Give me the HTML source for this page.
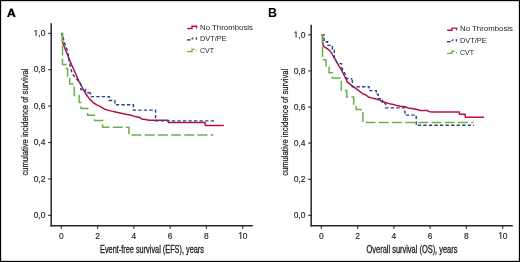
<!DOCTYPE html>
<html><head><meta charset="utf-8"><style>
html,body{margin:0;padding:0;background:#fff;}
body{width:520px;height:262px;overflow:hidden;}
svg{display:block;will-change:transform;}
</style></head><body>
<svg width="520" height="262" viewBox="0 0 520 262">
<rect x="0" y="0" width="520" height="262" fill="#fff"/>
<path fill-rule="evenodd" fill="#000" d="M7.0,17.1 L10.25,8.4 L12.45,8.4 L15.7,17.1 L13.55,17.1 L12.9,15.3 L9.8,15.3 L9.15,17.1 Z M10.4,13.7 L12.3,13.7 L11.35,10.9 Z"/>
<line x1="51.2" y1="23.30" x2="51.2" y2="226.4" stroke="#262626" stroke-width="1.5"/>
<line x1="50.45" y1="225.7" x2="252.8" y2="225.7" stroke="#262626" stroke-width="1.4"/>
<line x1="48.2" y1="215.33" x2="51.2" y2="215.33" stroke="#262626" stroke-width="1.1"/>
<text transform="translate(45.4,218.08) scale(0.94,1)" text-anchor="end" font-family="Liberation Sans, sans-serif" font-size="9.0" fill="#1e1e1e" stroke="#1e1e1e" stroke-width="0.15">0,0</text>
<line x1="48.2" y1="178.93" x2="51.2" y2="178.93" stroke="#262626" stroke-width="1.1"/>
<text transform="translate(45.4,181.68) scale(0.94,1)" text-anchor="end" font-family="Liberation Sans, sans-serif" font-size="9.0" fill="#1e1e1e" stroke="#1e1e1e" stroke-width="0.15">0,2</text>
<line x1="48.2" y1="142.53" x2="51.2" y2="142.53" stroke="#262626" stroke-width="1.1"/>
<text transform="translate(45.4,145.28) scale(0.94,1)" text-anchor="end" font-family="Liberation Sans, sans-serif" font-size="9.0" fill="#1e1e1e" stroke="#1e1e1e" stroke-width="0.15">0,4</text>
<line x1="48.2" y1="106.13" x2="51.2" y2="106.13" stroke="#262626" stroke-width="1.1"/>
<text transform="translate(45.4,108.88) scale(0.94,1)" text-anchor="end" font-family="Liberation Sans, sans-serif" font-size="9.0" fill="#1e1e1e" stroke="#1e1e1e" stroke-width="0.15">0,6</text>
<line x1="48.2" y1="69.73" x2="51.2" y2="69.73" stroke="#262626" stroke-width="1.1"/>
<text transform="translate(45.4,72.48) scale(0.94,1)" text-anchor="end" font-family="Liberation Sans, sans-serif" font-size="9.0" fill="#1e1e1e" stroke="#1e1e1e" stroke-width="0.15">0,8</text>
<line x1="48.2" y1="33.33" x2="51.2" y2="33.33" stroke="#262626" stroke-width="1.1"/>
<text transform="translate(45.4,36.08) scale(0.94,1)" text-anchor="end" font-family="Liberation Sans, sans-serif" font-size="9.0" fill="#1e1e1e" stroke="#1e1e1e" stroke-width="0.15">,0</text>
<path d="M36.10,36.08 V30.18 L34.45,31.38" fill="none" stroke="#1e1e1e" stroke-width="0.95"/>
<line x1="61.40" y1="225.7" x2="61.40" y2="228.8" stroke="#262626" stroke-width="1.1"/>
<text transform="translate(61.40,239.0) scale(0.88,1)" text-anchor="middle" font-family="Liberation Sans, sans-serif" font-size="9.6" fill="#1e1e1e" stroke="#1e1e1e" stroke-width="0.15">0</text>
<line x1="97.64" y1="225.7" x2="97.64" y2="228.8" stroke="#262626" stroke-width="1.1"/>
<text transform="translate(97.64,239.0) scale(0.88,1)" text-anchor="middle" font-family="Liberation Sans, sans-serif" font-size="9.6" fill="#1e1e1e" stroke="#1e1e1e" stroke-width="0.15">2</text>
<line x1="133.88" y1="225.7" x2="133.88" y2="228.8" stroke="#262626" stroke-width="1.1"/>
<text transform="translate(133.88,239.0) scale(0.88,1)" text-anchor="middle" font-family="Liberation Sans, sans-serif" font-size="9.6" fill="#1e1e1e" stroke="#1e1e1e" stroke-width="0.15">4</text>
<line x1="170.12" y1="225.7" x2="170.12" y2="228.8" stroke="#262626" stroke-width="1.1"/>
<text transform="translate(170.12,239.0) scale(0.88,1)" text-anchor="middle" font-family="Liberation Sans, sans-serif" font-size="9.6" fill="#1e1e1e" stroke="#1e1e1e" stroke-width="0.15">6</text>
<line x1="206.36" y1="225.7" x2="206.36" y2="228.8" stroke="#262626" stroke-width="1.1"/>
<text transform="translate(206.36,239.0) scale(0.88,1)" text-anchor="middle" font-family="Liberation Sans, sans-serif" font-size="9.6" fill="#1e1e1e" stroke="#1e1e1e" stroke-width="0.15">8</text>
<line x1="242.60" y1="225.7" x2="242.60" y2="228.8" stroke="#262626" stroke-width="1.1"/>
<text transform="translate(245.10,239.0) scale(0.88,1)" text-anchor="middle" font-family="Liberation Sans, sans-serif" font-size="9.6" fill="#1e1e1e" stroke="#1e1e1e" stroke-width="0.15">0</text>
<path d="M240.80,239.00 V232.40 L239.10,233.70" fill="none" stroke="#1e1e1e" stroke-width="0.95"/>
<text x="100.05" y="252.9" textLength="103.9" lengthAdjust="spacingAndGlyphs" font-family="Liberation Sans, sans-serif" font-size="10.0" fill="#1e1e1e" stroke="#1e1e1e" stroke-width="0.3">Event-free survival (EFS), years</text>
<text transform="translate(28.0,175.60) rotate(-90)" x="0" y="0" textLength="107" lengthAdjust="spacingAndGlyphs" font-family="Liberation Sans, sans-serif" font-size="9.2" fill="#1e1e1e" stroke="#1e1e1e" stroke-width="0.25">cumulative incidence of survival</text>
<text x="200.0" y="29.55" textLength="53.0" lengthAdjust="spacingAndGlyphs" font-family="Liberation Sans, sans-serif" font-size="8.1" fill="#1e1e1e">No Thrombosis</text>
<text x="200.0" y="41.3" textLength="26.7" lengthAdjust="spacingAndGlyphs" font-family="Liberation Sans, sans-serif" font-size="8.1" fill="#1e1e1e">DVT/PE</text>
<text x="200.0" y="52.7" textLength="14.0" lengthAdjust="spacingAndGlyphs" font-family="Liberation Sans, sans-serif" font-size="8.1" fill="#1e1e1e">CVT</text>
<polyline points="187.20,28.50 192.00,28.50 192.00,26.30 196.60,26.30 196.60,28.50" fill="none" stroke="#b3123e" stroke-width="1.4"/>
<line x1="187.0" y1="39.9" x2="190.6" y2="39.9" stroke="#27438c" stroke-width="1.4"/>
<line x1="191.6" y1="39.3" x2="193.4" y2="37.699999999999996" stroke="#27438c" stroke-width="1.4"/>
<line x1="196.4" y1="37.3" x2="196.4" y2="39.699999999999996" stroke="#27438c" stroke-width="1.3"/>
<polyline points="187.00,51.60 192.00,51.60 192.00,49.40 194.60,49.40" fill="none" stroke="#6cb045" stroke-width="1.4"/>
<line x1="196.2" y1="50.9" x2="197.0" y2="50.9" stroke="#6cb045" stroke-width="1.4"/>
<polyline points="62.40,33.40 62.45,40.50 62.80,43.00 67.00,53.50 71.50,64.60 73.70,69.20 76.40,75.50 79.10,81.70 82.60,88.00 86.00,94.30 89.50,98.90 92.90,102.30 96.30,104.60 98.50,105.70 101.80,107.30 104.10,109.00 107.90,110.10 113.30,111.60 117.80,112.60 122.40,113.40 126.00,114.30 131.30,115.30 135.20,116.60 139.70,117.60 142.40,119.30 145.80,119.40 148.90,120.20 168.10,120.30 168.50,122.50 205.00,122.50 205.50,125.60 223.80,125.60" fill="none" stroke="#b3123e" stroke-width="1.5" stroke-linejoin="round"/>
<polyline points="61.40,33.30 62.20,35.00 63.20,38.00 64.20,42.00 65.60,46.00 67.20,50.00 68.20,55.00 69.00,60.00 70.00,65.00 71.20,70.00 72.50,74.00 75.50,78.00 79.50,82.00 80.70,84.00 80.80,88.50 80.80,89.50 85.50,89.50 85.50,92.70 90.50,92.70" fill="none" stroke="#27438c" stroke-width="1.4" stroke-dasharray="3.35 2.2" stroke-dashoffset="1.67"/>
<polyline points="90.50,92.70 90.50,96.60 109.20,96.60 109.20,100.50 114.90,100.50 114.90,104.70 133.40,104.70 133.40,110.10 155.60,110.10 155.60,120.90 214.00,120.90" fill="none" stroke="#27438c" stroke-width="1.4" stroke-dasharray="3.35 2.2" stroke-dashoffset="1.50"/>
<polyline points="61.40,33.30 62.50,33.30 62.50,64.60 66.00,64.60 66.00,68.60 67.60,68.60 67.60,77.00 69.70,77.00 69.70,84.00 74.30,84.00 74.30,95.50 79.20,95.50 79.20,102.60 80.90,102.60 80.90,108.40 87.60,108.40 87.60,115.30 94.50,115.30 94.50,120.60 102.60,120.60 102.60,127.30 128.90,127.30 128.90,135.00 213.50,135.00" fill="none" stroke="#6cb045" stroke-width="1.5" stroke-dasharray="9.9 3.3" stroke-dashoffset="-0.2"/>
<text x="268.0" y="17.2" font-family="Liberation Sans, sans-serif" font-weight="bold" font-size="12.4" fill="#000">B</text>
<line x1="311.2" y1="24.70" x2="311.2" y2="226.4" stroke="#262626" stroke-width="1.5"/>
<line x1="310.45" y1="225.7" x2="512.8" y2="225.7" stroke="#262626" stroke-width="1.4"/>
<line x1="308.2" y1="215.33" x2="311.2" y2="215.33" stroke="#262626" stroke-width="1.1"/>
<text transform="translate(305.4,218.08) scale(0.94,1)" text-anchor="end" font-family="Liberation Sans, sans-serif" font-size="9.0" fill="#1e1e1e" stroke="#1e1e1e" stroke-width="0.15">0,0</text>
<line x1="308.2" y1="179.22" x2="311.2" y2="179.22" stroke="#262626" stroke-width="1.1"/>
<text transform="translate(305.4,181.97) scale(0.94,1)" text-anchor="end" font-family="Liberation Sans, sans-serif" font-size="9.0" fill="#1e1e1e" stroke="#1e1e1e" stroke-width="0.15">0,2</text>
<line x1="308.2" y1="143.12" x2="311.2" y2="143.12" stroke="#262626" stroke-width="1.1"/>
<text transform="translate(305.4,145.87) scale(0.94,1)" text-anchor="end" font-family="Liberation Sans, sans-serif" font-size="9.0" fill="#1e1e1e" stroke="#1e1e1e" stroke-width="0.15">0,4</text>
<line x1="308.2" y1="107.01" x2="311.2" y2="107.01" stroke="#262626" stroke-width="1.1"/>
<text transform="translate(305.4,109.76) scale(0.94,1)" text-anchor="end" font-family="Liberation Sans, sans-serif" font-size="9.0" fill="#1e1e1e" stroke="#1e1e1e" stroke-width="0.15">0,6</text>
<line x1="308.2" y1="70.91" x2="311.2" y2="70.91" stroke="#262626" stroke-width="1.1"/>
<text transform="translate(305.4,73.66) scale(0.94,1)" text-anchor="end" font-family="Liberation Sans, sans-serif" font-size="9.0" fill="#1e1e1e" stroke="#1e1e1e" stroke-width="0.15">0,8</text>
<line x1="308.2" y1="34.80" x2="311.2" y2="34.80" stroke="#262626" stroke-width="1.1"/>
<text transform="translate(305.4,37.55) scale(0.94,1)" text-anchor="end" font-family="Liberation Sans, sans-serif" font-size="9.0" fill="#1e1e1e" stroke="#1e1e1e" stroke-width="0.15">,0</text>
<path d="M296.10,37.55 V31.65 L294.45,32.85" fill="none" stroke="#1e1e1e" stroke-width="0.95"/>
<line x1="321.40" y1="225.7" x2="321.40" y2="228.8" stroke="#262626" stroke-width="1.1"/>
<text transform="translate(321.40,239.0) scale(0.88,1)" text-anchor="middle" font-family="Liberation Sans, sans-serif" font-size="9.6" fill="#1e1e1e" stroke="#1e1e1e" stroke-width="0.15">0</text>
<line x1="357.64" y1="225.7" x2="357.64" y2="228.8" stroke="#262626" stroke-width="1.1"/>
<text transform="translate(357.64,239.0) scale(0.88,1)" text-anchor="middle" font-family="Liberation Sans, sans-serif" font-size="9.6" fill="#1e1e1e" stroke="#1e1e1e" stroke-width="0.15">2</text>
<line x1="393.88" y1="225.7" x2="393.88" y2="228.8" stroke="#262626" stroke-width="1.1"/>
<text transform="translate(393.88,239.0) scale(0.88,1)" text-anchor="middle" font-family="Liberation Sans, sans-serif" font-size="9.6" fill="#1e1e1e" stroke="#1e1e1e" stroke-width="0.15">4</text>
<line x1="430.12" y1="225.7" x2="430.12" y2="228.8" stroke="#262626" stroke-width="1.1"/>
<text transform="translate(430.12,239.0) scale(0.88,1)" text-anchor="middle" font-family="Liberation Sans, sans-serif" font-size="9.6" fill="#1e1e1e" stroke="#1e1e1e" stroke-width="0.15">6</text>
<line x1="466.36" y1="225.7" x2="466.36" y2="228.8" stroke="#262626" stroke-width="1.1"/>
<text transform="translate(466.36,239.0) scale(0.88,1)" text-anchor="middle" font-family="Liberation Sans, sans-serif" font-size="9.6" fill="#1e1e1e" stroke="#1e1e1e" stroke-width="0.15">8</text>
<line x1="502.60" y1="225.7" x2="502.60" y2="228.8" stroke="#262626" stroke-width="1.1"/>
<text transform="translate(505.10,239.0) scale(0.88,1)" text-anchor="middle" font-family="Liberation Sans, sans-serif" font-size="9.6" fill="#1e1e1e" stroke="#1e1e1e" stroke-width="0.15">0</text>
<path d="M500.80,239.00 V232.40 L499.10,233.70" fill="none" stroke="#1e1e1e" stroke-width="0.95"/>
<text x="366.60" y="252.9" textLength="90.8" lengthAdjust="spacingAndGlyphs" font-family="Liberation Sans, sans-serif" font-size="10.0" fill="#1e1e1e" stroke="#1e1e1e" stroke-width="0.3">Overall survival (OS), years</text>
<text transform="translate(288.0,175.75) rotate(-90)" x="0" y="0" textLength="107" lengthAdjust="spacingAndGlyphs" font-family="Liberation Sans, sans-serif" font-size="9.2" fill="#1e1e1e" stroke="#1e1e1e" stroke-width="0.25">cumulative incidence of survival</text>
<text x="460.0" y="31.35" textLength="53.0" lengthAdjust="spacingAndGlyphs" font-family="Liberation Sans, sans-serif" font-size="8.1" fill="#1e1e1e">No Thrombosis</text>
<text x="460.0" y="43.099999999999994" textLength="26.7" lengthAdjust="spacingAndGlyphs" font-family="Liberation Sans, sans-serif" font-size="8.1" fill="#1e1e1e">DVT/PE</text>
<text x="460.0" y="54.5" textLength="14.0" lengthAdjust="spacingAndGlyphs" font-family="Liberation Sans, sans-serif" font-size="8.1" fill="#1e1e1e">CVT</text>
<polyline points="447.20,30.30 452.00,30.30 452.00,28.10 456.60,28.10 456.60,30.30" fill="none" stroke="#b3123e" stroke-width="1.4"/>
<line x1="447.0" y1="41.699999999999996" x2="450.6" y2="41.699999999999996" stroke="#27438c" stroke-width="1.4"/>
<line x1="451.6" y1="41.099999999999994" x2="453.4" y2="39.49999999999999" stroke="#27438c" stroke-width="1.4"/>
<line x1="456.4" y1="39.099999999999994" x2="456.4" y2="41.49999999999999" stroke="#27438c" stroke-width="1.3"/>
<polyline points="447.00,53.40 452.00,53.40 452.00,51.20 454.60,51.20" fill="none" stroke="#6cb045" stroke-width="1.4"/>
<line x1="456.2" y1="52.699999999999996" x2="457.0" y2="52.699999999999996" stroke="#6cb045" stroke-width="1.4"/>
<polyline points="322.50,34.90 322.60,39.00 322.70,43.00 323.20,45.00 324.30,46.90 327.20,48.60 330.00,50.90 332.30,54.30 334.60,58.30 336.90,62.30 339.20,66.30 342.00,70.90 342.90,72.90 345.20,77.50 347.50,82.10 350.20,84.40 353.90,87.10 358.50,90.40 363.00,94.00 366.00,95.00 368.30,97.00 371.50,97.90 375.10,98.80 378.80,99.90 382.50,101.50 386.10,102.60 389.80,103.70 393.40,104.60 397.10,105.60 400.20,106.30 405.50,106.80 407.80,107.90 413.20,108.80 417.10,109.60 420.20,110.40 427.10,110.50 429.40,111.70 434.00,111.90 459.30,112.00 459.50,114.20 465.20,114.20 465.40,117.20 484.00,117.20" fill="none" stroke="#b3123e" stroke-width="1.5" stroke-linejoin="round"/>
<polyline points="321.40,34.80 324.10,34.80 324.10,41.80 327.60,41.80 327.60,45.40 332.40,45.40 332.40,49.20 334.30,49.20 334.30,57.50 336.00,60.50 337.70,63.60 341.60,63.60 341.60,67.50 343.50,71.00 345.50,74.50 347.00,78.80 352.30,78.80" fill="none" stroke="#27438c" stroke-width="1.4" stroke-dasharray="3.35 2.2" stroke-dashoffset="0.00"/>
<polyline points="352.30,78.80 352.30,86.70 369.10,86.70 369.10,90.60 376.30,90.60 376.30,94.20 378.20,94.20 378.20,98.80 382.40,98.80 382.40,103.40 385.60,103.40 385.60,107.90 404.90,107.90 404.90,115.10 416.20,115.10 416.20,125.30 474.10,125.30" fill="none" stroke="#27438c" stroke-width="1.4" stroke-dasharray="3.35 2.2" stroke-dashoffset="4.60"/>
<polyline points="321.40,34.80 322.50,34.80 322.50,59.80 326.00,59.80 326.00,66.50 329.10,66.50 329.10,72.80 332.30,72.80 332.30,77.90 341.30,77.90 341.30,90.60 346.70,90.60 346.70,97.10 353.70,97.10 353.70,104.50 356.00,104.50 356.00,109.60 362.90,109.60 362.90,122.50 473.30,122.50" fill="none" stroke="#6cb045" stroke-width="1.5" stroke-dasharray="9.9 3.3" stroke-dashoffset="0.1"/>
<rect x="0.575" y="0.575" width="518.85" height="260.85" fill="none" stroke="#000" stroke-width="1.15"/>
</svg>
</body></html>
